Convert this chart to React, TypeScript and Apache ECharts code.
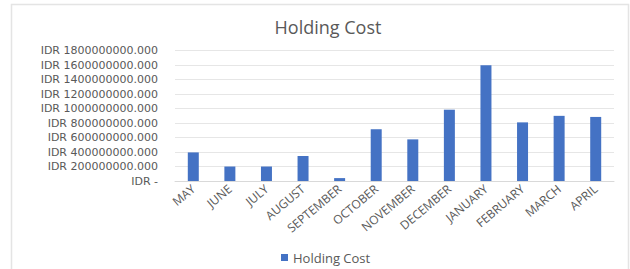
import React, { useEffect, useRef } from "react";
import * as echarts from "echarts";

const months = ["MAY", "JUNE", "JULY", "AUGUST", "SEPTEMBER", "OCTOBER", "NOVEMBER", "DECEMBER", "JANUARY", "FEBRUARY", "MARCH", "APRIL"];
const holdingCost = [395000000, 200000000, 200000000, 345000000, 40000000, 715000000, 575000000, 985000000, 1600000000, 810000000, 900000000, 885000000];
const seriesName = "Holding Cost";
const titleText = "Holding Cost";

export default function App() {
  const ref = useRef<HTMLDivElement>(null);
  useEffect(() => {
    if (!ref.current) return;
    const chart = echarts.init(ref.current, null, { renderer: "svg" });
    const font = "'Open Sans', sans-serif";
    chart.setOption({
      animation: false,
      backgroundColor: "#ffffff",
      graphic: [
        {
          type: "rect",
          shape: { x: 11.5, y: 4.5, width: 617, height: 280 },
          style: { fill: "none", stroke: "#e4e4e4", lineWidth: 1.5 },
          silent: true,
        },
      ],
      title: {
        text: titleText,
        left: 323,
        textAlign: "center",
        top: 13,
        textStyle: { fontFamily: font, fontSize: 18, fontWeight: "normal", color: "#595959" },
      },
      legend: {
        data: [seriesName],
        left: 276,
        top: 246,
        icon: "rect",
        itemWidth: 7,
        itemHeight: 7,
        itemGap: 6,
        textStyle: { fontFamily: font, fontSize: 13, color: "#595959" },
      },
      grid: { left: 175, right: 16, top: 50.7, bottom: 88, containLabel: false },
      xAxis: {
        type: "category",
        data: months,
        axisTick: { show: false },
        axisLine: { lineStyle: { color: "#d9d9d9" } },
        axisLabel: { rotate: 40, margin: 6, fontFamily: font, fontSize: 12, color: "#595959", interval: 0 },
      },
      yAxis: {
        type: "value",
        min: 0,
        max: 1800000000,
        interval: 200000000,
        axisLine: { show: false },
        axisTick: { show: false },
        splitLine: { lineStyle: { color: "#e6e6e6" } },
        axisLabel: {
          margin: 17,
          fontFamily: "'DejaVu Sans', sans-serif",
          fontSize: 11,
          lineHeight: 13,
          color: "#595959",
          formatter: (v: number) => (v === 0 ? "IDR -" : "IDR " + v + ".000"),
        },
      },
      series: [
        {
          name: seriesName,
          type: "bar",
          data: holdingCost,
          barWidth: 11,
          itemStyle: { color: "#4472C4" },
        },
      ],
    });
    return () => chart.dispose();
  }, []);
  return <div ref={ref} style={{ position: "fixed", left: 0, top: 0, width: 630, height: 269 }} />;
}
